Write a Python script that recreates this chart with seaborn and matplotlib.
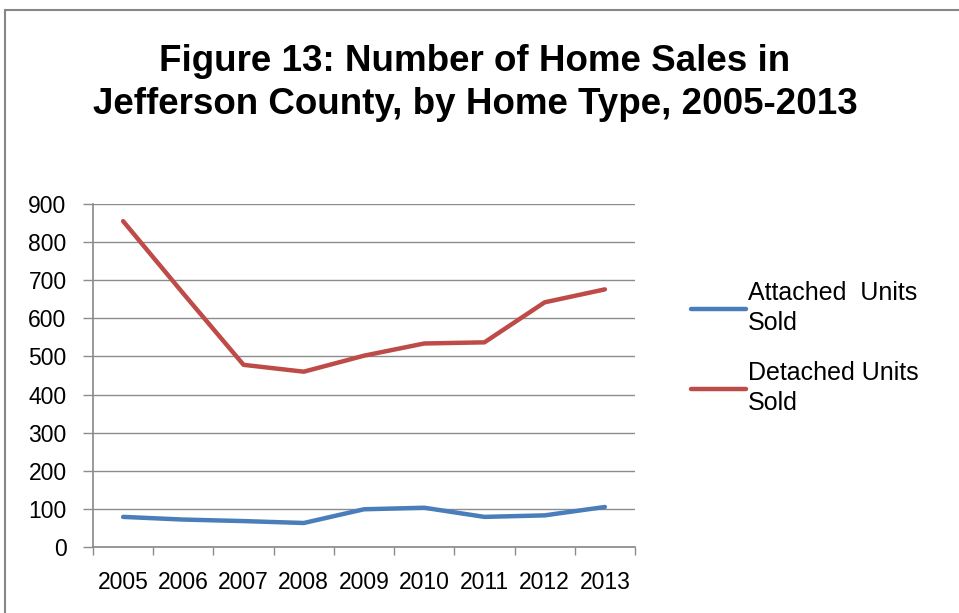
import pandas as pd
import matplotlib.pyplot as plt
import seaborn as sns
from matplotlib.patches import Rectangle

# data
years = ["2005", "2006", "2007", "2008", "2009", "2010", "2011", "2012", "2013"]
attached = [79, 72, 68, 63, 99, 103, 79, 83, 105]
detached = [855, 665, 478, 460, 502, 534, 537, 642, 676]
series_names = ["Attached  Units\nSold", "Detached Units\nSold"]
colors = ["#4a7ebb", "#be4b48"]

df = pd.DataFrame({
    "pos": list(range(len(years))) * 2,
    "value": attached + detached,
    "series": [series_names[0]] * len(years) + [series_names[1]] * len(years),
})

sns.set_theme(style="white", rc={"text.color": "black", "xtick.color": "black",
                                 "ytick.color": "black"})
plt.rcParams["font.family"] = ["Liberation Sans", "DejaVu Sans"]

fig = plt.figure(figsize=(9.59, 6.13), dpi=100)
ax = fig.add_axes([93 / 959, 1 - 547 / 613, (635 - 93) / 959, (547 - 204) / 613])

sns.lineplot(data=df, x="pos", y="value", hue="series", palette=colors,
             linewidth=3.2, ax=ax, legend=True)

ax.set_xlim(-0.5, len(years) - 0.5)
ax.set_ylim(0, 900)
ax.set_yticks(range(0, 901, 100))
ax.yaxis.grid(True, color="#8c8c8c", linewidth=1)
ax.set_axisbelow(True)

# category boundaries as tick marks, labels at centres
ax.set_xticks([i - 0.5 for i in range(len(years) + 1)])
ax.set_xticklabels([])
ax.set_xticks(range(len(years)), minor=True)
ax.set_xticklabels(years, minor=True, fontsize=16.5)
ax.tick_params(axis="x", which="major", length=6, width=1, color="#8c8c8c", direction="out", bottom=True)
ax.tick_params(axis="x", which="minor", length=0, pad=17, colors="black")
ax.tick_params(axis="y", length=7, width=1, color="#8c8c8c", direction="out", left=True,
               labelsize=16.5, pad=12, labelcolor="black")

for s in ["top", "right"]:
    ax.spines[s].set_visible(False)
ax.spines["left"].set_color("#8c8c8c")
ax.spines["bottom"].set_color("#8c8c8c")
ax.set_xlabel("")
ax.set_ylabel("")

leg = ax.legend(loc="center left", bbox_to_anchor=(668 / 959, 1 - 348 / 613),
                bbox_transform=fig.transFigure, frameon=False, fontsize=18,
                handlelength=2.2, handletextpad=0.1, labelspacing=1.05)
for line in leg.get_lines():
    line.set_linewidth(3.2)
for t in leg.get_texts():
    t.set_linespacing(1.3)

fig.text(475 / 959, 1 - 83 / 613, "Figure 13: Number of Home Sales in\nJefferson County, by Home Type, 2005-2013",
         ha="center", va="center", fontsize=26.5, fontweight="bold", linespacing=1.28, color="black")

# chart frame
fig.patches.append(Rectangle((5 / 959, -0.2), 1.5, 1.2 - 10 / 613, transform=fig.transFigure,
                             fill=False, edgecolor="#868686", linewidth=1.5))

fig.savefig("out.png", dpi=100)
